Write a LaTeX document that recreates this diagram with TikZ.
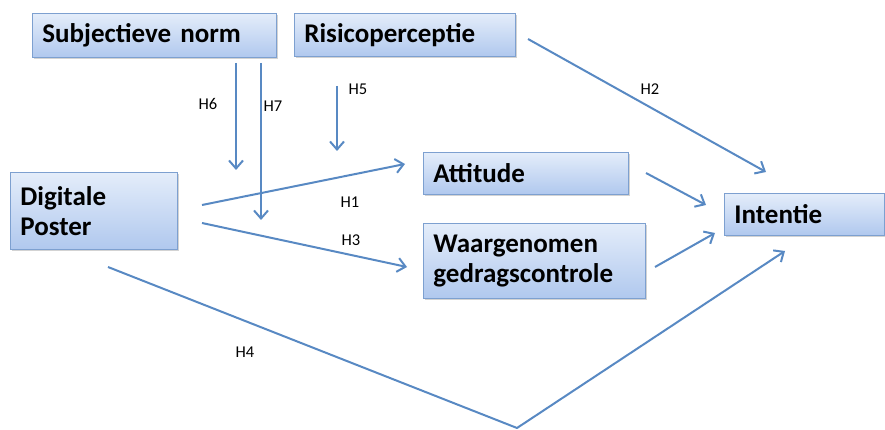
\documentclass[tikz,border=0pt]{standalone}
\usepackage{fontspec}
\setmainfont{Carlito}
\usetikzlibrary{arrows.meta,shadows}
\definecolor{arr}{RGB}{88,137,195}
\definecolor{bord}{RGB}{125,160,208}
\definecolor{ftop}{RGB}{228,237,250}
\definecolor{fbot}{RGB}{176,200,238}
\tikzset{
  box/.style={draw=bord, line width=0.8pt, top color=ftop, bottom color=fbot,
    drop shadow={shadow xshift=1.5pt, shadow yshift=-2pt, opacity=0.35},
    anchor=north west, inner xsep=10pt, inner ysep=0pt, align=left,
    font=\fontsize{27}{30.5}\selectfont\bfseries, text=black},
  conn/.style={draw=arr, line width=2pt, -{Straight Barb[length=8pt,width=14pt,line width=2pt]}},
  lab/.style={font=\fontsize{16.5}{18}\selectfont, text=black}
}
\begin{document}
\begin{tikzpicture}[x=1pt,y=-1pt]
\useasboundingbox (0,0) rectangle (885,430);
% boxes
\node[box, minimum width=244pt, minimum height=44pt, text width=224pt] (sn) at (32,13) {Subjectieve norm};
\node[box, minimum width=221pt, minimum height=43pt, text width=201pt] (rp) at (294,13) {Risicoperceptie};
\node[box, minimum width=167pt, minimum height=77pt, text width=147pt] (dp) at (10,172) {Digitale\\Poster};
\node[box, minimum width=205pt, minimum height=42pt, text width=185pt] (at) at (423,152) {Attitude};
\node[box, minimum width=222pt, minimum height=75pt, text width=202pt] (wg) at (423,223) {Waargenomen\\gedragscontrole};
\node[box, minimum width=160pt, minimum height=42pt, text width=140pt] (in) at (724,193) {Intentie};
% connector end points
\coordinate (h6a) at (236,63);  \coordinate (h6b) at (236,170);
\coordinate (h7a) at (261,63);  \coordinate (h7b) at (261,220);
\coordinate (h5a) at (337,86);  \coordinate (h5b) at (337,151);
\coordinate (h1a) at (202,205); \coordinate (h1b) at (405,164);
\coordinate (h3a) at (202,223); \coordinate (h3b) at (407,267);
\coordinate (h2a) at (528,39);  \coordinate (h2b) at (766,172);
\coordinate (aia) at (646,173); \coordinate (aib) at (706,205);
\coordinate (wia) at (655,267); \coordinate (wib) at (715,233);
\coordinate (h4a) at (108,267); \coordinate (h4v) at (517,428); \coordinate (h4b) at (785,251);
% connectors
\draw[conn] (h6a) -- (h6b);
\draw[conn] (h7a) -- (h7b);
\draw[conn] (h5a) -- (h5b);
\draw[conn] (h1a) -- (h1b);
\draw[conn] (h3a) -- (h3b);
\draw[conn] (h2a) -- (h2b);
\draw[conn] (aia) -- (aib);
\draw[conn] (wia) -- (wib);
\draw[conn, line join=round] (h4a) -- (h4v) -- (h4b);
% labels
\node[lab] (l6) at (208,104) {H6};
\node[lab] (l7) at (273,106) {H7};
\node[lab] (l5) at (358,89) {H5};
\node[lab] (l2) at (650,89) {H2};
\node[lab] (l1) at (350,202) {H1};
\node[lab] (l3) at (351,240) {H3};
\node[lab] (l4) at (245,352) {H4};
\end{tikzpicture}
\end{document}
